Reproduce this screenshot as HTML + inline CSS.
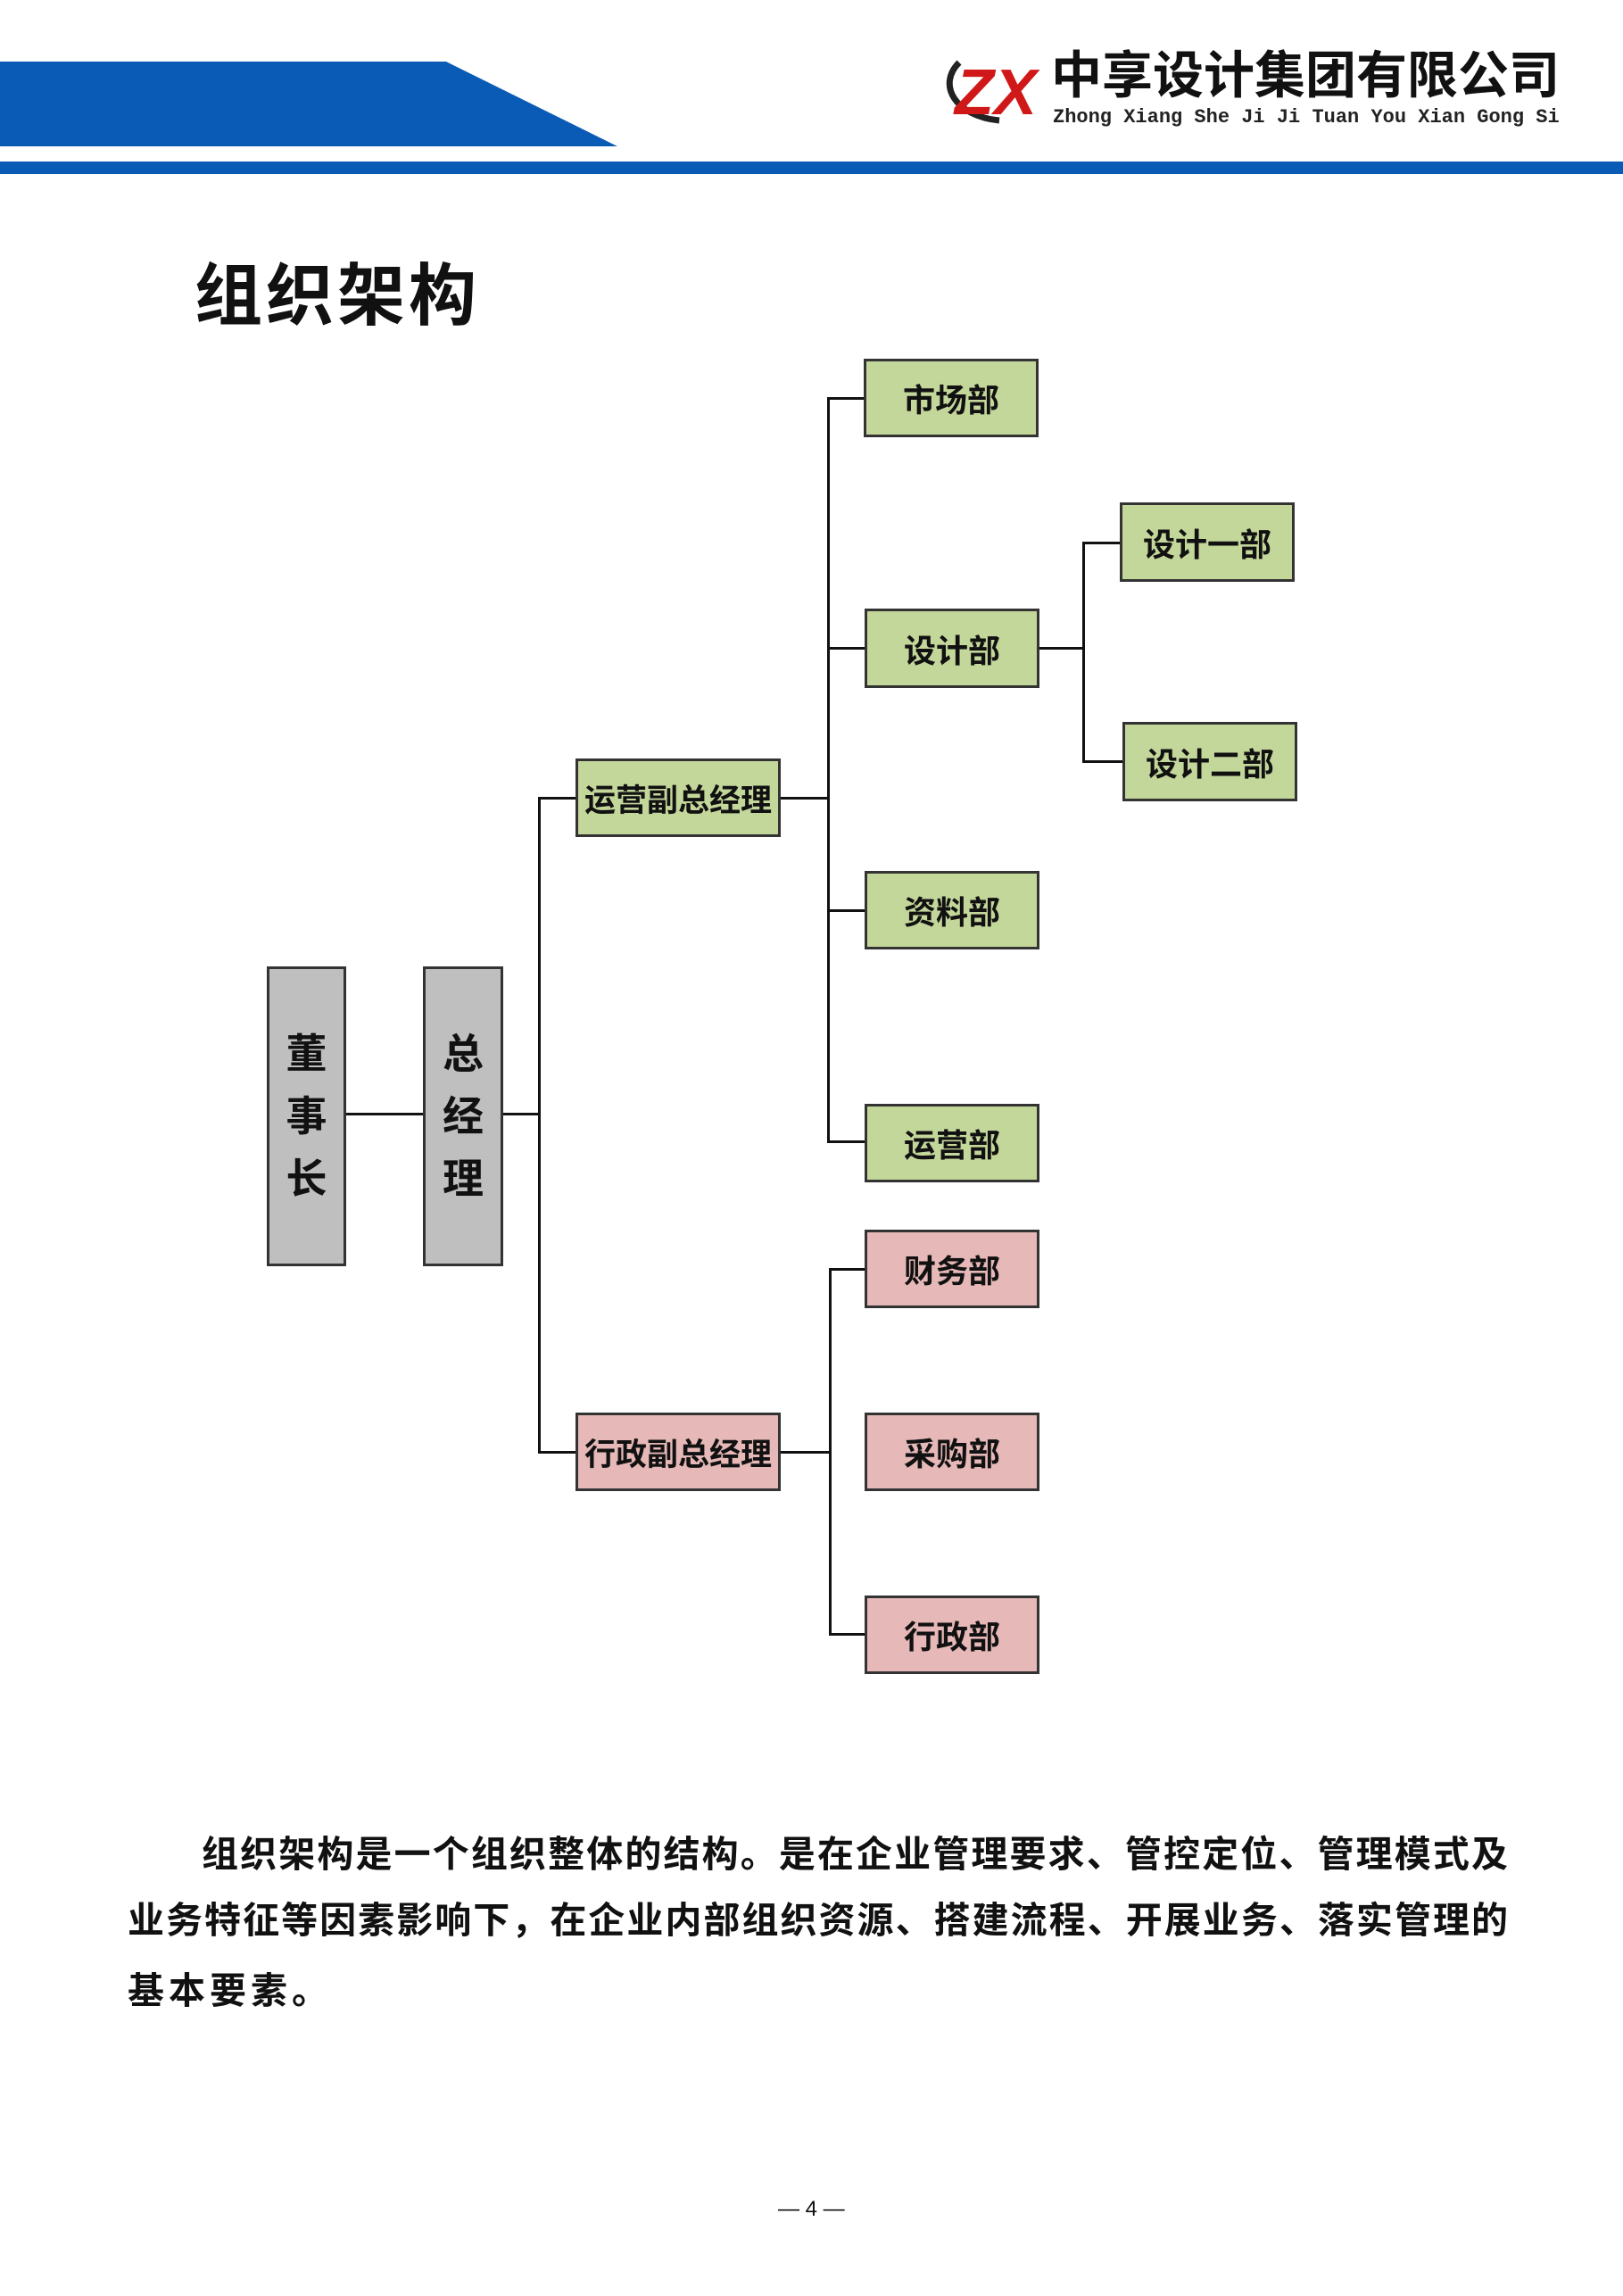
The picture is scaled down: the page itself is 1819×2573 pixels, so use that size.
<!DOCTYPE html>
<html><head><meta charset="utf-8"><style>
body{margin:0;width:1819px;height:2573px;background:#fff;position:relative;overflow:hidden;font-family:"Liberation Sans","Noto Sans CJK SC",sans-serif}
.a{position:absolute}
.b{position:absolute;box-sizing:border-box;border:3px solid #333;display:flex;align-items:center;justify-content:center;font-weight:bold;font-size:36px;color:#111}
.g{background:#c4d79b}.p{background:#e6b9b8}.y{background:#bfbfbf}
.v{flex-direction:column;font-size:46px;line-height:70px}
.l{position:absolute;background:#111}
.t{position:absolute;font-size:41px;font-weight:bold;color:#111;white-space:nowrap;text-align:justify;text-align-last:justify;height:50px;line-height:50px}
</style></head><body>
<svg class="a" style="left:0;top:0" width="1819" height="200">
<polygon points="0,69 500,69 692,164 0,164" fill="#0a5bb5"/>
<rect x="0" y="181" width="1819" height="14" fill="#0a5bb5"/>
<path d="M1075,70 C1050,95 1070,130 1120,135" stroke="#222" stroke-width="7" fill="none"/>
<text x="1070" y="128" font-family="Liberation Sans" font-weight="bold" font-style="italic" font-size="72" fill="#d01818">ZX</text>
</svg>
<div class="a" style="left:1178px;top:52px;font-size:57px;line-height:66px;color:#111;font-weight:bold;font-family:'Liberation Sans','Noto Sans CJK SC',sans-serif">中享设计集团有限公司</div>
<div class="a" style="left:1180px;top:118px;font-size:22px;line-height:28px;font-family:'Liberation Mono',monospace;font-weight:bold;color:#222;white-space:nowrap">Zhong Xiang She Ji Ji Tuan You Xian Gong Si</div>
<div class="a" style="left:218px;top:288px;font-size:76px;font-weight:bold;line-height:90px;letter-spacing:4px;color:#111">组织架构</div>

<div class="l" style="left:387px;top:1247px;width:87px;height:3px"></div>
<div class="l" style="left:563px;top:1247px;width:42px;height:3px"></div>
<div class="l" style="left:603px;top:893px;width:3px;height:736px"></div>
<div class="l" style="left:603px;top:893px;width:42px;height:3px"></div>
<div class="l" style="left:603px;top:1626px;width:42px;height:3px"></div>
<div class="l" style="left:874px;top:893px;width:55px;height:3px"></div>
<div class="l" style="left:927px;top:445px;width:3px;height:835px"></div>
<div class="l" style="left:927px;top:445px;width:41px;height:3px"></div>
<div class="l" style="left:927px;top:725px;width:42px;height:3px"></div>
<div class="l" style="left:927px;top:1019px;width:49px;height:3px"></div>
<div class="l" style="left:927px;top:1278px;width:42px;height:3px"></div>
<div class="l" style="left:1165px;top:725px;width:50px;height:3px"></div>
<div class="l" style="left:1213px;top:607px;width:3px;height:247px"></div>
<div class="l" style="left:1213px;top:607px;width:42px;height:3px"></div>
<div class="l" style="left:1213px;top:852px;width:45px;height:3px"></div>
<div class="l" style="left:874px;top:1626px;width:57px;height:3px"></div>
<div class="l" style="left:929px;top:1421px;width:3px;height:412px"></div>
<div class="l" style="left:929px;top:1421px;width:40px;height:3px"></div>
<div class="l" style="left:929px;top:1830px;width:40px;height:3px"></div>

<div class="b y v" style="left:299px;top:1083px;width:89px;height:336px">董<br>事<br>长</div>
<div class="b y v" style="left:474px;top:1083px;width:90px;height:336px">总<br>经<br>理</div>
<div class="b g" style="left:645px;top:850px;width:230px;height:88px;font-size:35px">运营副总经理</div>
<div class="b p" style="left:645px;top:1583px;width:230px;height:88px;font-size:35px">行政副总经理</div>
<div class="b g" style="left:968px;top:402px;width:196px;height:88px">市场部</div>
<div class="b g" style="left:969px;top:682px;width:196px;height:89px">设计部</div>
<div class="b g" style="left:969px;top:976px;width:196px;height:88px">资料部</div>
<div class="b g" style="left:969px;top:1237px;width:196px;height:88px">运营部</div>
<div class="b g" style="left:1255px;top:563px;width:196px;height:89px">设计一部</div>
<div class="b g" style="left:1258px;top:809px;width:196px;height:89px">设计二部</div>
<div class="b p" style="left:969px;top:1378px;width:196px;height:88px">财务部</div>
<div class="b p" style="left:969px;top:1583px;width:196px;height:88px">采购部</div>
<div class="b p" style="left:969px;top:1788px;width:196px;height:88px">行政部</div>

<div class="t" style="left:226px;top:2053px;width:1464px">组织架构是一个组织整体的结构。是在企业管理要求、管控定位、管理模式及</div>
<div class="t" style="left:143px;top:2127px;width:1547px">业务特征等因素影响下，在企业内部组织资源、搭建流程、开展业务、落实管理的</div>
<div class="a" style="left:143px;top:2206px;font-size:41px;font-weight:bold;color:#111;line-height:50px;letter-spacing:5px">基本要素。</div>
<div class="a" style="left:872px;top:2462px;font-size:24px;color:#111">— 4 —</div>
</body></html>
